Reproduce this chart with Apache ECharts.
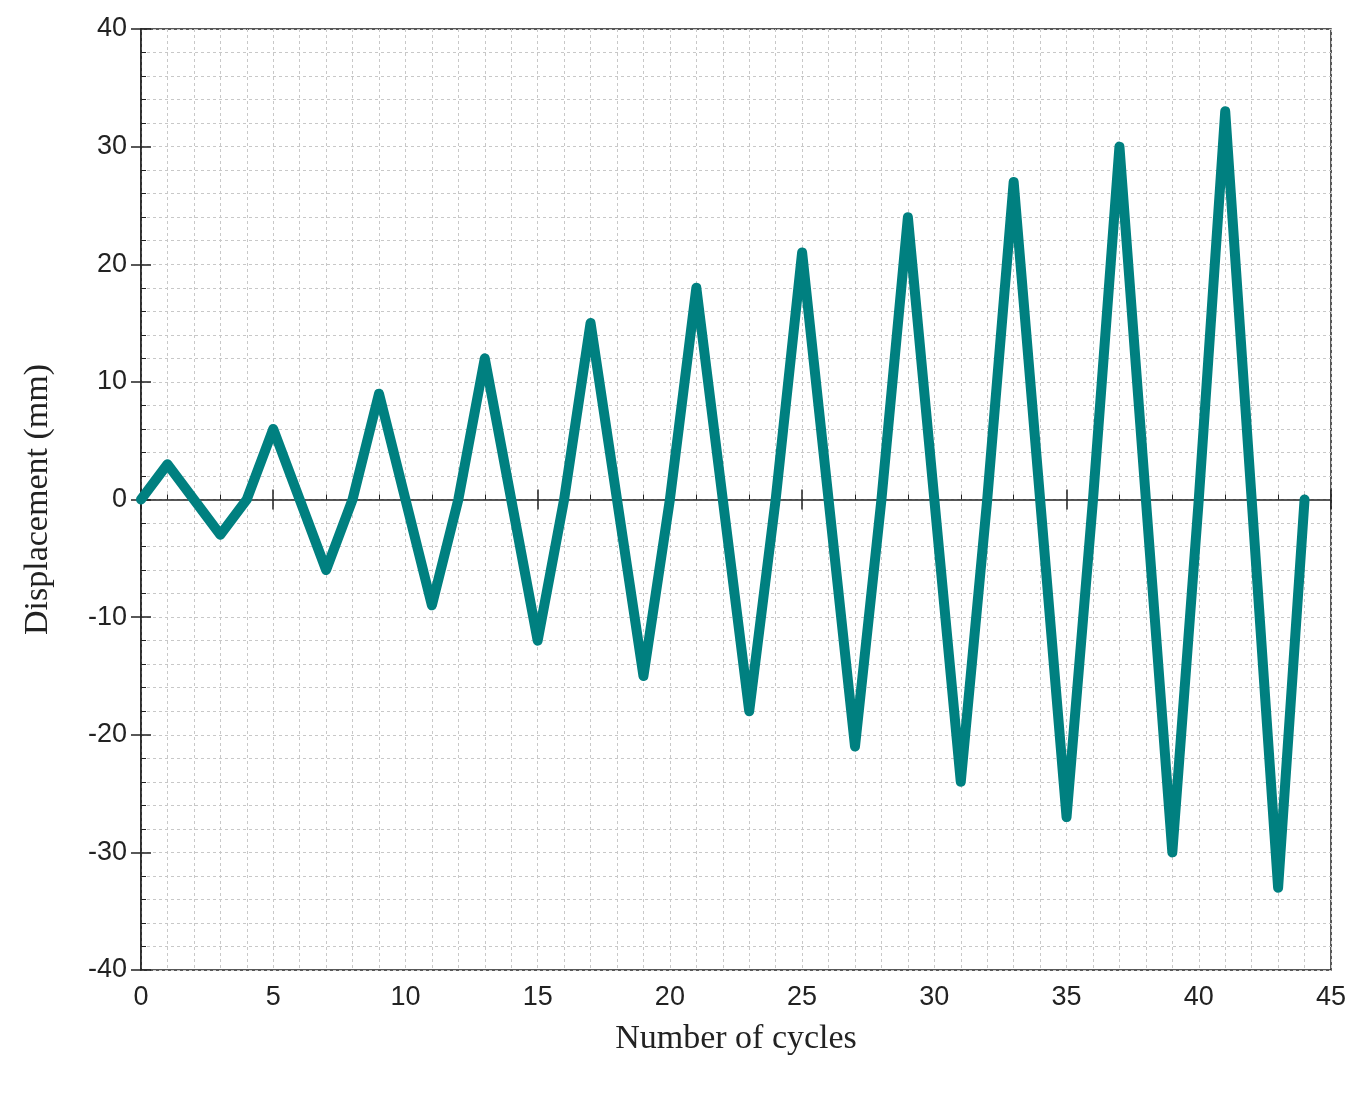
<!DOCTYPE html>
<html>
<head>
<meta charset="utf-8">
<script src="https://cdn.jsdelivr.net/npm/echarts@6/dist/echarts.min.js"></script>
<style>html,body{margin:0;padding:0;background:#fff}#main{width:1361px;height:1098px}</style>
</head>
<body>
<div id="main"></div>
<script>
var cycles = [0,1,2,3,4,5,6,7,8,9,10,11,12,13,14,15,16,17,18,19,20,21,22,23,24,25,26,27,28,29,30,31,32,33,34,35,36,37,38,39,40,41,42,43,44];
var displacement = [0,3,0,-3,0,6,0,-6,0,9,0,-9,0,12,0,-12,0,15,0,-15,0,18,0,-18,0,21,0,-21,0,24,0,-24,0,27,0,-27,0,30,0,-30,0,33,0,-33,0];

var points = cycles.map(function(c, i) { return [c, displacement[i]]; });
var chart = echarts.init(document.getElementById('main'));

var minorLine = {show: true, lineStyle: {color: '#c8c8c8', type: [3, 3], width: 1}};
var majorLine = {show: true, lineStyle: {color: '#c8c8c8', type: [3, 3], width: 1}};
var tick = {show: true, inside: true, length: 10, lineStyle: {color: '#222', width: 1.5}};
var mtick = {show: true, length: 5, splitNumber: 5, lineStyle: {color: '#222'}};

chart.setOption({
    animation: false,
    backgroundColor: '#fff',
    grid: {left: 141, right: 30, top: 29, bottom: 128, show: true, borderColor: '#222', borderWidth: 1.5, backgroundColor: '#fff'},
    xAxis: [{
        type: 'value', min: 0, max: 45, interval: 5,
        name: 'Number of cycles', nameLocation: 'middle', nameGap: 52,
        nameTextStyle: {fontFamily: 'Liberation Serif', fontSize: 34, color: '#222'},
        axisLine: {lineStyle: {color: '#222', width: 1.5}},
        axisTick: tick,
        minorTick: mtick,
        axisLabel: {fontFamily: 'Liberation Sans', fontSize: 27, color: '#222', margin: 14},
        splitLine: majorLine,
        minorSplitLine: minorLine
    }, {
        type: 'value', min: 0, max: 45, interval: 5, position: 'top',
        axisLine: {show: false}, axisTick: tick, axisLabel: {show: false}, splitLine: {show: false}
    }],
    yAxis: [{
        type: 'value', min: -40, max: 40, interval: 10,
        name: 'Displacement (mm)', nameLocation: 'middle', nameGap: 86,
        nameTextStyle: {fontFamily: 'Liberation Serif', fontSize: 34, color: '#222'},
        axisLine: {show: true, lineStyle: {color: '#222', width: 1.5}},
        axisTick: tick,
        minorTick: mtick,
        axisLabel: {fontFamily: 'Liberation Sans', fontSize: 27, color: '#222', margin: 14},
        splitLine: majorLine,
        minorSplitLine: minorLine
    }, {
        type: 'value', min: -40, max: 40, interval: 10, position: 'right',
        axisLine: {show: false}, axisTick: tick, axisLabel: {show: false}, splitLine: {show: false}
    }],
    series: [{
        type: 'line',
        data: points,
        showSymbol: false,
        lineStyle: {color: '#008080', width: 10, cap: 'round', join: 'round'},
        itemStyle: {color: '#008080'}
    }]
});
</script>
</body>
</html>
